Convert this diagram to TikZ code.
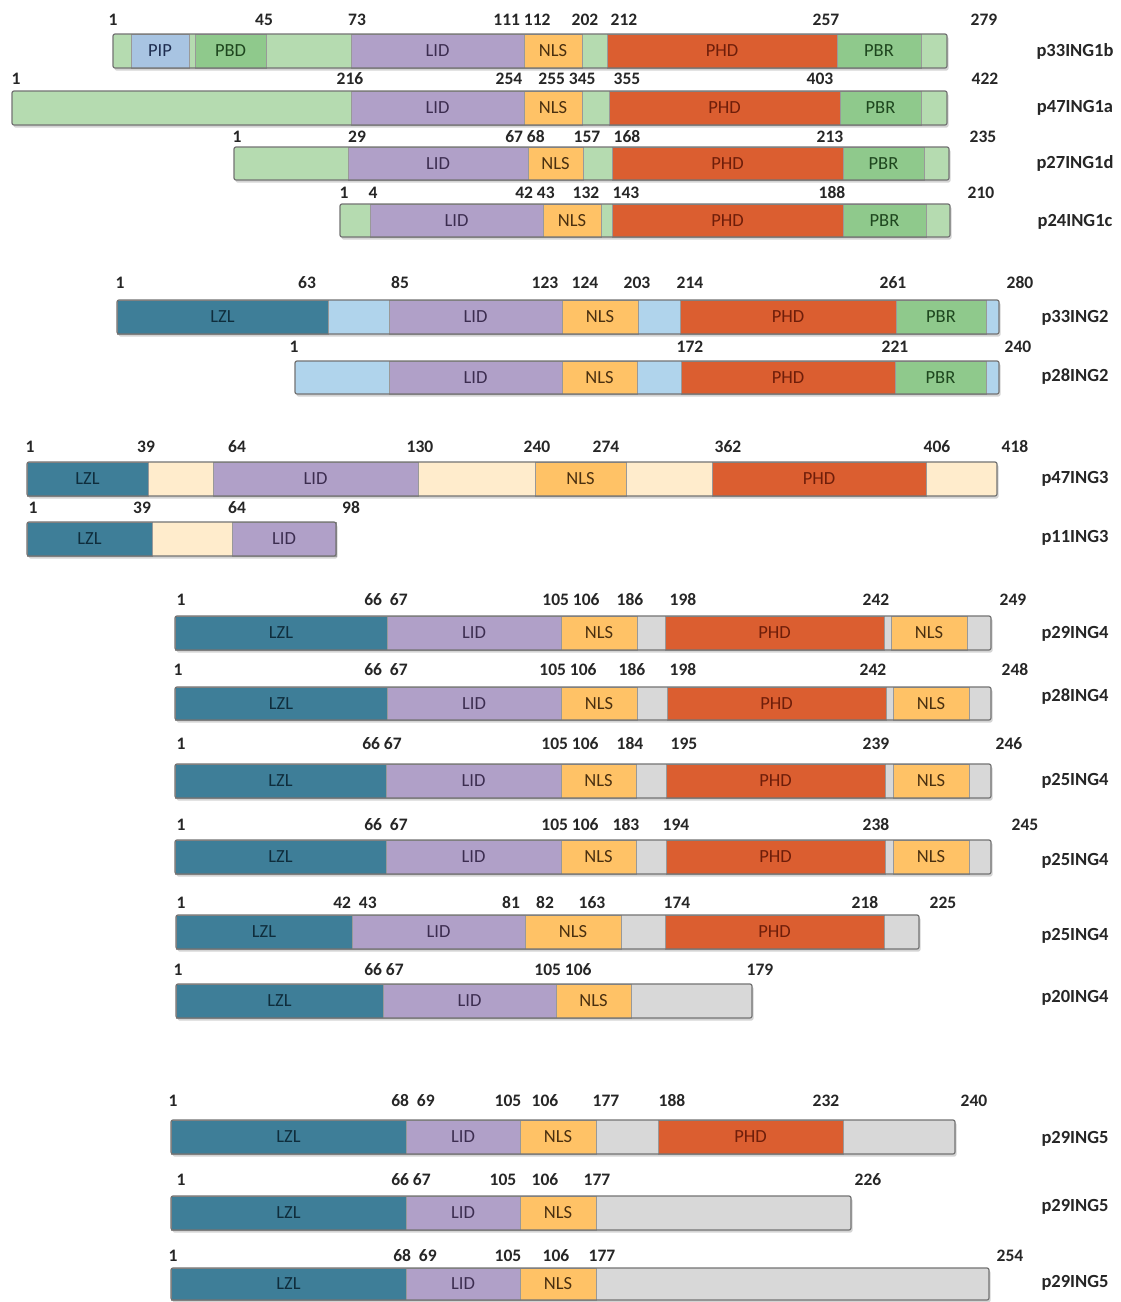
\documentclass[tikz,border=0pt]{standalone}
\usepackage{fontspec}
\setmainfont{Carlito}
\definecolor{lgreen}{HTML}{B5DBB0}
\definecolor{pgreen}{HTML}{8FC98C}
\definecolor{pipblue}{HTML}{A8C4E2}
\definecolor{lidc}{HTML}{B0A0C8}
\definecolor{nlsc}{HTML}{FFC266}
\definecolor{phdc}{HTML}{DB5E30}
\definecolor{lzlc}{HTML}{3E7E98}
\definecolor{lblue}{HTML}{B0D4EC}
\definecolor{cream}{HTML}{FFECCC}
\definecolor{grayc}{HTML}{D8D8D8}
\definecolor{tlid}{HTML}{3C2D50}
\definecolor{tnls}{HTML}{4A3010}
\definecolor{tphd}{HTML}{6E1E0A}
\definecolor{tgrn}{HTML}{1E461E}
\definecolor{tpip}{HTML}{1E2D50}
\definecolor{tlzl}{HTML}{0F2D3C}
\newcounter{nc}
\newcounter{dc}
\newcounter{bc}
\newcommand\aanum[3]{\stepcounter{nc}\node[numtext] (num\arabic{nc}) at (#1,#2) {#3};}
\newcommand\protbar[5]{\stepcounter{bc}%
  \fill[black!30,opacity=.55,rounded corners=2pt] (#1+1.5,#3+2.5) rectangle (#2+1.5,#4+2.5);
  \fill[#5,rounded corners=2pt] (#1,#3) rectangle (#2,#4);
  \coordinate (bar\arabic{bc}) at (#1,#3);}
\newcommand\protout[4]{\draw[barline,rounded corners=2pt] (#1,#3) rectangle (#2,#4);}
\newcommand\dom[7]{\stepcounter{dc}%
  \draw[segline,fill=#5] (#1,#3) rectangle (#2,#4);
  \node[domtext,text=#6] (dom\arabic{dc}) at ({(#1+#2)/2},{(#3+#4)/2}) {#7};}
\newcommand\plab[3]{\node[labtext] (#1) at (1075,#2) {#3};}
\tikzset{
  numtext/.style={font=\bfseries\fontsize{17.5}{18}\selectfont,text=black!85,inner sep=0pt},
  labtext/.style={font=\bfseries\fontsize{18.5}{19}\selectfont,text=black!85,inner sep=0pt},
  domtext/.style={font=\fontsize{18.5}{18.5}\selectfont,inner sep=0pt},
  segline/.style={draw=black!40,line width=0.8pt},
  barline/.style={draw=black!55,line width=1.2pt}
}
\begin{document}
\begin{tikzpicture}[x=1pt,y=-1pt]
\useasboundingbox[fill=white] (0,0) rectangle (1121,1302);
% ---------- Row 1 p33ING1b
\protbar{113}{947}{34}{68}{lgreen}
\dom{131}{189}{34}{68}{pipblue}{tpip}{PIP}
\dom{195}{266}{34}{68}{pgreen}{tgrn}{PBD}
\dom{351}{524}{34}{68}{lidc}{tlid}{LID}
\dom{524}{582}{34}{68}{nlsc}{tnls}{NLS}
\dom{607}{837}{34}{68}{phdc}{tphd}{PHD}
\dom{837}{921}{34}{68}{pgreen}{tgrn}{PBR}
\protout{113}{947}{34}{68}
\aanum{113}{20}{1}\aanum{264}{20}{45}\aanum{357}{20}{73}\aanum{522}{20}{111 112}
\aanum{585}{20}{202}\aanum{624}{20}{212}\aanum{826}{20}{257}\aanum{984}{20}{279}
\plab{l1}{51}{p33ING1b}
% ---------- Row 2 p47ING1a
\protbar{12}{947}{91}{125}{lgreen}
\dom{351}{524}{91}{125}{lidc}{tlid}{LID}
\dom{524}{582}{91}{125}{nlsc}{tnls}{NLS}
\dom{609}{840}{91}{125}{phdc}{tphd}{PHD}
\dom{840}{921}{91}{125}{pgreen}{tgrn}{PBR}
\protout{12}{947}{91}{125}
\aanum{16}{79}{1}\aanum{350}{79}{216}\aanum{509}{79}{254}\aanum{567}{79}{255 345}
\aanum{627}{79}{355}\aanum{820}{79}{403}\aanum{985}{79}{422}
\plab{l2}{108}{p47ING1a}
% ---------- Row 3 p27ING1d
\protbar{234}{949}{147}{180}{lgreen}
\dom{348}{528}{147}{180}{lidc}{tlid}{LID}
\dom{528}{583}{147}{180}{nlsc}{tnls}{NLS}
\dom{612}{843}{147}{180}{phdc}{tphd}{PHD}
\dom{843}{924}{147}{180}{pgreen}{tgrn}{PBR}
\protout{234}{949}{147}{180}
\aanum{237}{137}{1}\aanum{357}{137}{29}\aanum{525}{137}{67 68}\aanum{587}{137}{157}
\aanum{627}{137}{168}\aanum{830}{137}{213}\aanum{983}{137}{235}
\plab{l3}{163}{p27ING1d}
% ---------- Row 4 p24ING1c
\protbar{340}{950}{204}{237}{lgreen}
\dom{370}{543}{204}{237}{lidc}{tlid}{LID}
\dom{543}{601}{204}{237}{nlsc}{tnls}{NLS}
\dom{612}{843}{204}{237}{phdc}{tphd}{PHD}
\dom{843}{926}{204}{237}{pgreen}{tgrn}{PBR}
\protout{340}{950}{204}{237}
\aanum{344}{193}{1}\aanum{373}{193}{4}\aanum{535}{193}{42 43}\aanum{586}{193}{132}
\aanum{626}{193}{143}\aanum{832}{193}{188}\aanum{981}{193}{210}
\plab{l4}{222}{p24ING1c}
% ---------- Row 5 p33ING2
\protbar{117}{999}{300}{334}{lblue}
\dom{117}{328}{300}{334}{lzlc}{tlzl}{LZL}
\dom{389}{562}{300}{334}{lidc}{tlid}{LID}
\dom{562}{638}{300}{334}{nlsc}{tnls}{NLS}
\dom{680}{896}{300}{334}{phdc}{tphd}{PHD}
\dom{896}{986}{300}{334}{pgreen}{tgrn}{PBR}
\protout{117}{999}{300}{334}
\aanum{120}{283}{1}\aanum{307}{283}{63}\aanum{400}{283}{85}\aanum{545}{283}{123}
\aanum{585}{283}{124}\aanum{637}{283}{203}\aanum{690}{283}{214}\aanum{893}{283}{261}
\aanum{1020}{283}{280}
\plab{l5}{318}{p33ING2}
% ---------- Row 6 p28ING2
\protbar{295}{999}{361}{394}{lblue}
\dom{389}{562}{361}{394}{lidc}{tlid}{LID}
\dom{562}{637}{361}{394}{nlsc}{tnls}{NLS}
\dom{681}{895}{361}{394}{phdc}{tphd}{PHD}
\dom{895}{986}{361}{394}{pgreen}{tgrn}{PBR}
\protout{295}{999}{361}{394}
\aanum{294}{347}{1}\aanum{690}{347}{172}\aanum{895}{347}{221}\aanum{1018}{347}{240}
\plab{l6}{377}{p28ING2}
% ---------- Row 7 p47ING3
\protbar{27}{997}{462}{496}{cream}
\dom{27}{148}{462}{496}{lzlc}{tlzl}{LZL}
\dom{213}{418}{462}{496}{lidc}{tlid}{LID}
\dom{535}{626}{462}{496}{nlsc}{tnls}{NLS}
\dom{712}{926}{462}{496}{phdc}{tphd}{PHD}
\protout{27}{997}{462}{496}
\aanum{30}{447}{1}\aanum{146}{447}{39}\aanum{237}{447}{64}\aanum{420}{447}{130}
\aanum{537}{447}{240}\aanum{606}{447}{274}\aanum{728}{447}{362}\aanum{937}{447}{406}
\aanum{1015}{447}{418}
\plab{l7}{479}{p47ING3}
% ---------- Row 8 p11ING3
\protbar{27}{336}{522}{556}{cream}
\dom{27}{152}{522}{556}{lzlc}{tlzl}{LZL}
\dom{232}{336}{522}{556}{lidc}{tlid}{LID}
\protout{27}{336}{522}{556}
\aanum{33}{508}{1}\aanum{142}{508}{39}\aanum{237}{508}{64}\aanum{351}{508}{98}
\plab{l8}{538}{p11ING3}
% ---------- Row 9 p29ING4
\protbar{175}{991}{616}{650}{grayc}
\dom{175}{387}{616}{650}{lzlc}{tlzl}{LZL}
\dom{387}{561}{616}{650}{lidc}{tlid}{LID}
\dom{561}{637}{616}{650}{nlsc}{tnls}{NLS}
\dom{665}{884}{616}{650}{phdc}{tphd}{PHD}
\dom{891}{967}{616}{650}{nlsc}{tnls}{NLS}
\protout{175}{991}{616}{650}
\aanum{181}{600}{1}\aanum{386}{600}{66\ \ 67}\aanum{571}{600}{105 106}\aanum{630}{600}{186}
\aanum{683}{600}{198}\aanum{876}{600}{242}\aanum{1013}{600}{249}
\plab{l9}{634}{p29ING4}
% ---------- Row 10 p28ING4
\protbar{175}{991}{687}{720}{grayc}
\dom{175}{387}{687}{720}{lzlc}{tlzl}{LZL}
\dom{387}{561}{687}{720}{lidc}{tlid}{LID}
\dom{561}{637}{687}{720}{nlsc}{tnls}{NLS}
\dom{667}{886}{687}{720}{phdc}{tphd}{PHD}
\dom{893}{969}{687}{720}{nlsc}{tnls}{NLS}
\protout{175}{991}{687}{720}
\aanum{178}{670}{1}\aanum{386}{670}{66\ \ 67}\aanum{568}{670}{105 106}\aanum{632}{670}{186}
\aanum{683}{670}{198}\aanum{873}{670}{242}\aanum{1015}{670}{248}
\plab{l10}{697}{p28ING4}
% ---------- Row 11 p25ING4
\protbar{175}{991}{764}{798}{grayc}
\dom{175}{386}{764}{798}{lzlc}{tlzl}{LZL}
\dom{386}{561}{764}{798}{lidc}{tlid}{LID}
\dom{561}{636}{764}{798}{nlsc}{tnls}{NLS}
\dom{666}{885}{764}{798}{phdc}{tphd}{PHD}
\dom{893}{969}{764}{798}{nlsc}{tnls}{NLS}
\protout{175}{991}{764}{798}
\aanum{181}{744}{1}\aanum{382}{744}{66 67}\aanum{570}{744}{105 106}\aanum{630}{744}{184}
\aanum{684}{744}{195}\aanum{876}{744}{239}\aanum{1009}{744}{246}
\plab{l11}{781}{p25ING4}
% ---------- Row 12 p25ING4
\protbar{175}{991}{840}{874}{grayc}
\dom{175}{386}{840}{874}{lzlc}{tlzl}{LZL}
\dom{386}{561}{840}{874}{lidc}{tlid}{LID}
\dom{561}{636}{840}{874}{nlsc}{tnls}{NLS}
\dom{666}{885}{840}{874}{phdc}{tphd}{PHD}
\dom{893}{969}{840}{874}{nlsc}{tnls}{NLS}
\protout{175}{991}{840}{874}
\aanum{181}{825}{1}\aanum{386}{825}{66\ \ 67}\aanum{570}{825}{105 106}\aanum{626}{825}{183}
\aanum{676}{825}{194}\aanum{876}{825}{238}\aanum{1025}{825}{245}
\plab{l12}{861}{p25ING4}
% ---------- Row 13 p25ING4
\protbar{176}{919}{915}{949}{grayc}
\dom{176}{352}{915}{949}{lzlc}{tlzl}{LZL}
\dom{352}{525}{915}{949}{lidc}{tlid}{LID}
\dom{525}{621}{915}{949}{nlsc}{tnls}{NLS}
\dom{665}{884}{915}{949}{phdc}{tphd}{PHD}
\protout{176}{919}{915}{949}
\aanum{181}{903}{1}\aanum{355}{903}{42\ \ 43}\aanum{511}{903}{81}\aanum{545}{903}{82}
\aanum{592}{903}{163}\aanum{677}{903}{174}\aanum{865}{903}{218}\aanum{943}{903}{225}
\plab{l13}{936}{p25ING4}
% ---------- Row 14 p20ING4
\protbar{176}{752}{984}{1018}{grayc}
\dom{176}{383}{984}{1018}{lzlc}{tlzl}{LZL}
\dom{383}{556}{984}{1018}{lidc}{tlid}{LID}
\dom{556}{631}{984}{1018}{nlsc}{tnls}{NLS}
\protout{176}{752}{984}{1018}
\aanum{178}{970}{1}\aanum{384}{970}{66 67}\aanum{563}{970}{105 106}\aanum{760}{970}{179}
\plab{l14}{998}{p20ING4}
% ---------- Row 15 p29ING5
\protbar{171}{955}{1120}{1154}{grayc}
\dom{171}{406}{1120}{1154}{lzlc}{tlzl}{LZL}
\dom{406}{520}{1120}{1154}{lidc}{tlid}{LID}
\dom{520}{596}{1120}{1154}{nlsc}{tnls}{NLS}
\dom{658}{843}{1120}{1154}{phdc}{tphd}{PHD}
\protout{171}{955}{1120}{1154}
\aanum{173}{1101}{1}\aanum{413}{1101}{68\ \ 69}\aanum{508}{1101}{105}\aanum{545}{1101}{106}
\aanum{606}{1101}{177}\aanum{672}{1101}{188}\aanum{826}{1101}{232}\aanum{974}{1101}{240}
\plab{l15}{1139}{p29ING5}
% ---------- Row 16 p29ING5
\protbar{171}{851}{1196}{1230}{grayc}
\dom{171}{406}{1196}{1230}{lzlc}{tlzl}{LZL}
\dom{406}{520}{1196}{1230}{lidc}{tlid}{LID}
\dom{520}{596}{1196}{1230}{nlsc}{tnls}{NLS}
\protout{171}{851}{1196}{1230}
\aanum{181}{1180}{1}\aanum{411}{1180}{66 67}\aanum{503}{1180}{105}\aanum{545}{1180}{106}
\aanum{597}{1180}{177}\aanum{868}{1180}{226}
\plab{l16}{1207}{p29ING5}
% ---------- Row 17 p29ING5
\protbar{171}{989}{1268}{1300}{grayc}
\dom{171}{406}{1268}{1300}{lzlc}{tlzl}{LZL}
\dom{406}{520}{1268}{1300}{lidc}{tlid}{LID}
\dom{520}{596}{1268}{1300}{nlsc}{tnls}{NLS}
\protout{171}{989}{1268}{1300}
\aanum{173}{1256}{1}\aanum{415}{1256}{68\ \ 69}\aanum{508}{1256}{105}\aanum{556}{1256}{106}
\aanum{602}{1256}{177}\aanum{1010}{1256}{254}
\plab{l17}{1283}{p29ING5}
\end{tikzpicture}
\end{document}
